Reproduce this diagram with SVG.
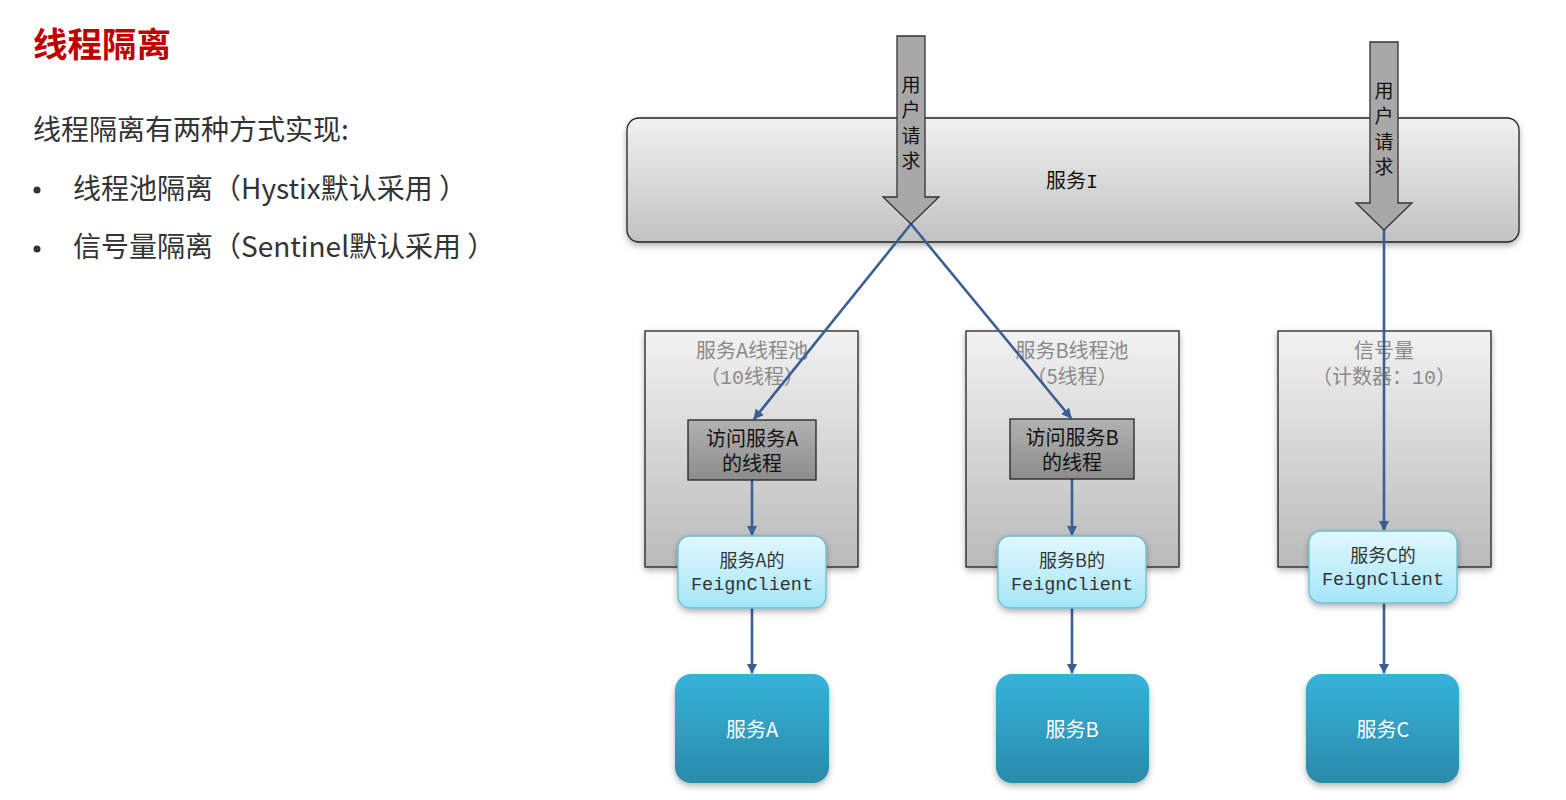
<svg xmlns="http://www.w3.org/2000/svg" width="1566" height="800" viewBox="0 0 1566 800">
<defs>
<linearGradient id="gSvc" x1="0" y1="0" x2="0" y2="1"><stop offset="0" stop-color="#f1f1f1"/><stop offset="1" stop-color="#c2c2c2"/></linearGradient>
<linearGradient id="gPool" x1="0" y1="0" x2="0" y2="1"><stop offset="0" stop-color="#f2f2f2"/><stop offset="1" stop-color="#bababa"/></linearGradient>
<linearGradient id="gThr" x1="0" y1="0" x2="0" y2="1"><stop offset="0" stop-color="#b2b2b2"/><stop offset="1" stop-color="#8c8c8c"/></linearGradient>
<linearGradient id="gFeign" x1="0" y1="0" x2="0" y2="1"><stop offset="0" stop-color="#e2f8fe"/><stop offset="1" stop-color="#a4e6f8"/></linearGradient>
<linearGradient id="gBlue" x1="0" y1="0" x2="0" y2="1"><stop offset="0" stop-color="#36b3da"/><stop offset="1" stop-color="#2a8aab"/></linearGradient>
<filter id="sh" x="-10%" y="-10%" width="120%" height="130%"><feDropShadow dx="0" dy="3" stdDeviation="3" flood-color="#000" flood-opacity="0.3"/></filter>
<marker id="ah" viewBox="0 0 10 10" refX="9" refY="5" markerWidth="4" markerHeight="4" orient="auto" markerUnits="strokeWidth"><path d="M0,0 L10,5 L0,10 z" fill="#3a5f95"/></marker>
</defs>
<style>
text{font-family:"Noto Sans CJK SC","Noto Sans",sans-serif}
.body{fill:#333;font-size:28px}
.mono{font-family:"Liberation Mono","Noto Sans CJK SC",monospace}
.pt{fill:#8a8a8a;font-size:20px;text-anchor:middle}
.c{text-anchor:middle}
.bx{stroke:#222;stroke-width:1.3}
.conn{stroke:#3a5f95;stroke-width:2.6;fill:none;marker-end:url(#ah)}
.bigarrow{fill:#a8a8a8;stroke:#333;stroke-width:1.3}
.vt{font-size:19px;fill:#111;text-anchor:middle}
</style>

<g id="title">
<text x="33" y="57" font-size="34.5" font-weight="bold" fill="#c00000">线程隔离</text>
<text class="body" x="33" y="140">线程隔离有两种方式实现:</text>
<circle cx="37" cy="190" r="3.5" fill="#333"/>
<text class="body" x="73" y="199">线程池隔离（Hystix默认采用 ）</text>
<circle cx="37" cy="249" r="3.5" fill="#333"/>
<text class="body" x="73" y="257">信号量隔离（Sentinel默认采用 ）</text>
</g>

<g id="serviceI">
<rect x="627" y="118" width="892" height="124" rx="12" fill="url(#gSvc)" class="bx" filter="url(#sh)"/>
<text class="c" x="1072" y="188" font-size="20" fill="#111">服务<tspan class="mono">I</tspan></text>
</g>

<g id="pools">
<g id="poolA">
<rect x="645" y="331" width="213" height="236" fill="url(#gPool)" class="bx" filter="url(#sh)"/>
<text class="pt" x="752" y="358">服务A线程池</text>
<text class="pt" x="752" y="384">（<tspan class="mono">10</tspan>线程）</text>
</g>
<g id="poolB">
<rect x="966" y="331" width="213" height="236" fill="url(#gPool)" class="bx" filter="url(#sh)"/>
<text class="pt" x="1072" y="358">服务B线程池</text>
<text class="pt" x="1072" y="384">（5线程）</text>
</g>
<g id="poolC">
<rect x="1278" y="331" width="213" height="236" fill="url(#gPool)" class="bx" filter="url(#sh)"/>
<text class="pt" x="1384" y="358">信号量</text>
<text class="pt" x="1384" y="384">（计数器：<tspan class="mono">10</tspan>）</text>
</g>
</g>

<g id="connectors">
<line class="conn" x1="911" y1="224" x2="754" y2="419"/>
<line class="conn" x1="911" y1="224" x2="1071" y2="418"/>
<line class="conn" x1="1384" y1="230" x2="1384" y2="530"/>
<line class="conn" x1="752" y1="480" x2="752" y2="535"/>
<line class="conn" x1="1072" y1="479" x2="1072" y2="535"/>
<line class="conn" x1="752" y1="608" x2="752" y2="673"/>
<line class="conn" x1="1072" y1="608" x2="1072" y2="673"/>
<line class="conn" x1="1384" y1="603" x2="1384" y2="673"/>
</g>

<g id="userReq1">
<path class="bigarrow" d="M897,36 H925 V197 H939 L911,224 L883,197 H897 Z"/>
<text class="vt" x="911" y="92">用</text>
<text class="vt" x="911" y="117">户</text>
<text class="vt" x="911" y="143">请</text>
<text class="vt" x="911" y="168">求</text>
</g>
<g id="userReq2">
<path class="bigarrow" d="M1370,42 H1398 V203 H1412 L1384,230 L1356,203 H1370 Z"/>
<text class="vt" x="1384" y="98">用</text>
<text class="vt" x="1384" y="123">户</text>
<text class="vt" x="1384" y="149">请</text>
<text class="vt" x="1384" y="174">求</text>
</g>

<g id="threadA">
<rect x="688" y="420" width="128" height="60" fill="url(#gThr)" class="bx"/>
<text class="c" x="752" y="446" font-size="20" fill="#111">访问服务A</text>
<text class="c" x="752" y="471" font-size="20" fill="#111">的线程</text>
</g>
<g id="threadB">
<rect x="1010" y="419" width="124" height="60" fill="url(#gThr)" class="bx"/>
<text class="c" x="1072" y="445" font-size="20" fill="#111">访问服务B</text>
<text class="c" x="1072" y="470" font-size="20" fill="#111">的线程</text>
</g>

<g id="feignA">
<rect x="678" y="536" width="148" height="72" rx="12" fill="url(#gFeign)" stroke="#6bbcd4" stroke-width="1.3" filter="url(#sh)"/>
<text class="c" x="752" y="567" font-size="18" fill="#333">服务A的</text>
<text class="c mono" x="752" y="590" font-size="18.5" fill="#333">FeignClient</text>
</g>
<g id="feignB">
<rect x="998" y="536" width="148" height="72" rx="12" fill="url(#gFeign)" stroke="#6bbcd4" stroke-width="1.3" filter="url(#sh)"/>
<text class="c" x="1072" y="567" font-size="18" fill="#333">服务B的</text>
<text class="c mono" x="1072" y="590" font-size="18.5" fill="#333">FeignClient</text>
</g>
<g id="feignC">
<rect x="1309" y="531" width="148" height="72" rx="12" fill="url(#gFeign)" stroke="#6bbcd4" stroke-width="1.3" filter="url(#sh)"/>
<text class="c" x="1383" y="562" font-size="18" fill="#333">服务C的</text>
<text class="c mono" x="1383" y="585" font-size="18.5" fill="#333">FeignClient</text>
</g>

<g id="svcA">
<rect x="675" y="674" width="154" height="109" rx="16" fill="url(#gBlue)" filter="url(#sh)"/>
<text class="c" x="752" y="737" font-size="20" fill="#fff">服务A</text>
</g>
<g id="svcB">
<rect x="996" y="674" width="153" height="109" rx="16" fill="url(#gBlue)" filter="url(#sh)"/>
<text class="c" x="1072" y="737" font-size="20" fill="#fff">服务B</text>
</g>
<g id="svcC">
<rect x="1306" y="674" width="153" height="109" rx="16" fill="url(#gBlue)" filter="url(#sh)"/>
<text class="c" x="1383" y="737" font-size="20" fill="#fff">服务C</text>
</g>
</svg>
